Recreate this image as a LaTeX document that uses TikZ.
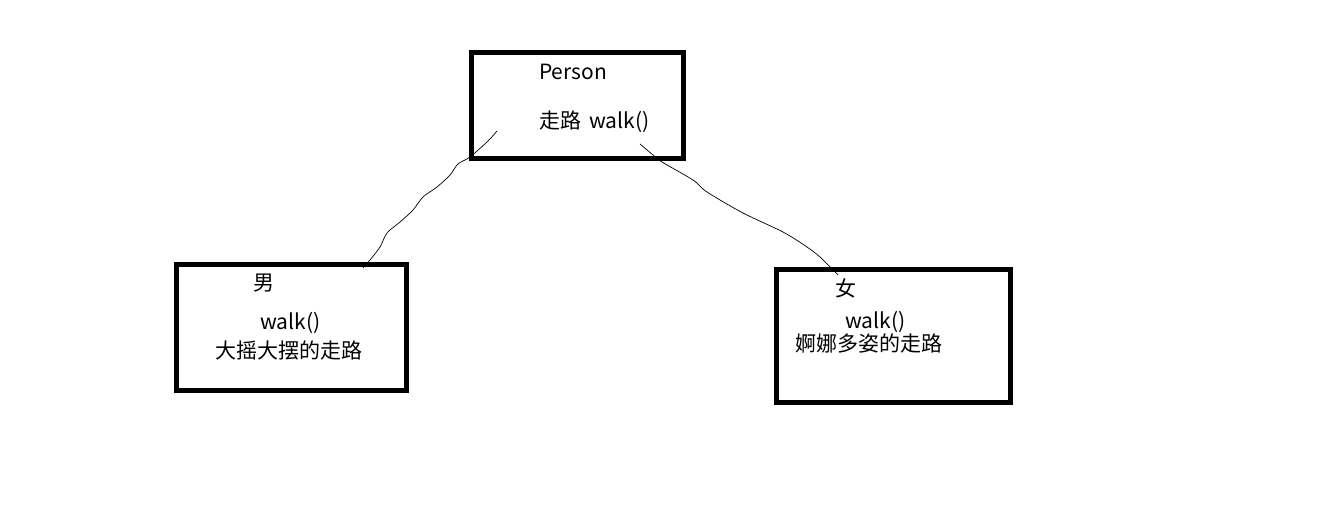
\documentclass[tikz,border=0pt]{standalone}
\usepackage{fontspec}
\setmainfont{Noto Sans CJK SC}
\begin{document}
\begin{tikzpicture}[x=1pt,y=-1pt,
  box/.style={draw=black,line width=5pt,inner sep=0pt,outer sep=0pt,fill=none},
  lbl/.style={anchor=west,inner sep=0pt,font=\fontsize{21}{25}\selectfont},
  wire/.style={draw=black,line width=0.7pt}]
\useasboundingbox[fill=white] (0,0) rectangle (1339,530);
% boxes
\node[box,minimum width=212pt,minimum height=106.5pt] (person) at (577.5,105.25) {};
\node[box,minimum width=230pt,minimum height=126.5pt] (man) at (291,327.25) {};
\node[box,minimum width=234pt,minimum height=133.5pt] (woman) at (893.5,335.75) {};
% texts
\node[lbl] (pname) at (539,72) {Person};
\node[lbl] (pwalk) at (539,122) {走路\hspace{8pt}walk()};
\node[lbl] (mname) at (253,283) {男};
\node[lbl] (mwalk) at (260,323) {walk()};
\node[lbl] (mdesc) at (215,350) {大摇大摆的走路};
\node[lbl] (wname) at (835,288) {女};
\node[lbl] (wwalk) at (845,322) {walk()};
\node[lbl] (wdesc) at (795,343) {婀娜多姿的走路};
% hand-drawn connectors
\coordinate (la) at (497,131);
\coordinate (lb) at (363,268);
\coordinate (ra) at (640,144);
\coordinate (rb) at (838,275);
\draw[wire] plot[smooth,tension=0.5] coordinates {(497,131) (488,141) (470,157) (458,164) (450,175) (437,187) (423,197) (413,210) (400,222) (387,233) (380,247) (370,260) (363,268)};
\draw[wire] plot[smooth,tension=0.5] coordinates {(640,144) (653,155) (662,162) (693,180) (707,192) (743,213) (783,232) (807,247) (820,257) (833,270) (838,275)};
\end{tikzpicture}
\end{document}
